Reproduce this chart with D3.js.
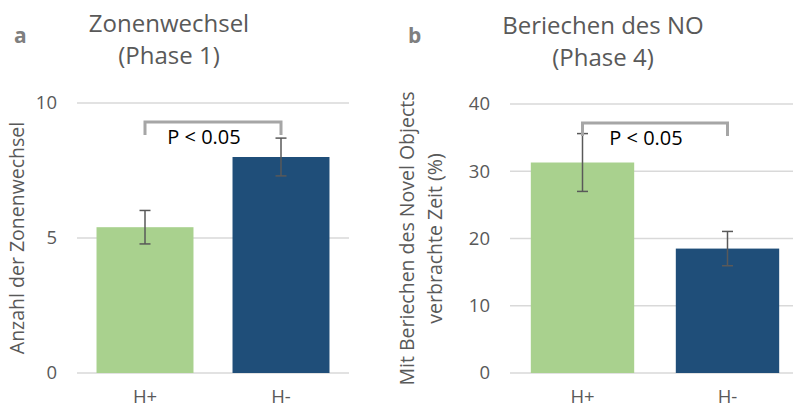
<!DOCTYPE html>
<html>
<head>
<meta charset="utf-8">
<script src="https://cdn.jsdelivr.net/npm/d3@7"></script>
<style>
  body { margin: 0; background: #fff; }
  svg { display: block; font-family: "Open Sans", sans-serif; }
  .grid line { stroke: #d9d9d9; stroke-width: 1.5; }
  .tick-label { fill: #595959; font-size: 18.5px; }
  .chartTitle { fill: #595959; font-size: 24px; }
  .panelLetter { fill: #7f7f7f; font-size: 21px; font-weight: bold; }
  .axisTitle { fill: #595959; font-size: 19.5px; }
</style>
</head>
<body>
<svg id="chart"></svg>
<script>
// Data
const groups = ['H+', 'H-'];
const barColors = ['#a9d18e', '#1f4e79'];

const zoneMeans = [5.4, 8.0];
const zoneErrors = [0.62, 0.7];
const zoneTicks = [0, 5, 10];

const sniffMeans = [31.3, 18.5];
const sniffErrors = [4.3, 2.55];
const sniffTicks = [0, 10, 20, 30, 40];

const pLabel = 'P < 0.05';

const panels = [
  {
    letter: 'a', title: ['Zonenwechsel', '(Phase 1)'],
    yTitle: ['Anzahl der Zonenwechsel'],
    means: zoneMeans, errors: zoneErrors, ticks: zoneTicks, yMax: 10,
    xRange: [77, 349], yRange: [373, 103],
    letterX: 14, titleX: 169, titleY: 32, tickX: 57, yTitleX: 24
  },
  {
    letter: 'b', title: ['Beriechen des NO', '(Phase 4)'],
    yTitle: ['Mit Beriechen des Novel Objects', 'verbrachte Zeit (%)'],
    means: sniffMeans, errors: sniffErrors, ticks: sniffTicks, yMax: 40,
    xRange: [510, 800], yRange: [373, 104],
    letterX: 408, titleX: 603, titleY: 34, tickX: 490, yTitleX: 414
  }
];

const svg = d3.select('#chart')
  .attr('width', 793)
  .attr('height', 408);

panels.forEach(p => {
  const x = d3.scaleBand()
    .domain(groups)
    .range(p.xRange)
    .paddingInner(0.287)
    .paddingOuter(0.1435);

  const y = d3.scaleLinear()
    .domain([0, p.yMax])
    .range(p.yRange);

  const g = svg.append('g');

  // gridlines
  g.append('g').attr('class', 'grid')
    .selectAll('line')
    .data(p.ticks)
    .join('line')
      .attr('x1', p.xRange[0])
      .attr('x2', p.xRange[1])
      .attr('y1', d => y(d))
      .attr('y2', d => y(d));

  // y tick labels
  g.selectAll('.ylab')
    .data(p.ticks)
    .join('text')
      .attr('class', 'tick-label ylab')
      .attr('x', p.tickX)
      .attr('y', d => y(d))
      .attr('dy', '0.35em')
      .attr('text-anchor', 'end')
      .text(d => d);

  // x labels
  g.selectAll('.xlab')
    .data(groups)
    .join('text')
      .attr('class', 'tick-label xlab')
      .attr('x', d => x(d) + x.bandwidth() / 2)
      .attr('y', 403)
      .attr('text-anchor', 'middle')
      .text(d => d);

  // bars
  g.selectAll('.bar')
    .data(groups)
    .join('rect')
      .attr('class', 'bar')
      .attr('x', d => x(d))
      .attr('width', x.bandwidth())
      .attr('y', (d, i) => y(p.means[i]))
      .attr('height', (d, i) => y(0) - y(p.means[i]))
      .attr('fill', (d, i) => barColors[i]);

  // error bars
  const err = g.selectAll('.err')
    .data(groups)
    .join('g')
      .attr('class', 'err')
      .attr('stroke', '#595959')
      .attr('stroke-width', 1.5);
  err.append('line')
    .attr('x1', d => x(d) + x.bandwidth() / 2)
    .attr('x2', d => x(d) + x.bandwidth() / 2)
    .attr('y1', (d, i) => y(p.means[i] + p.errors[i]))
    .attr('y2', (d, i) => y(p.means[i] - p.errors[i]));
  [1, -1].forEach(s => {
    err.append('line')
      .attr('x1', d => x(d) + x.bandwidth() / 2 - 5.5)
      .attr('x2', d => x(d) + x.bandwidth() / 2 + 5.5)
      .attr('y1', (d, i) => y(p.means[i] + s * p.errors[i]))
      .attr('y2', (d, i) => y(p.means[i] + s * p.errors[i]));
  });

  // significance bracket
  const bx1 = x(groups[0]) + x.bandwidth() / 2;
  const bx2 = x(groups[1]) + x.bandwidth() / 2;
  const top = p.yRange[1] + 19;
  g.append('path')
    .attr('d', `M${bx1},${top + 13}V${top}H${bx2}V${top + 13}`)
    .attr('fill', 'none')
    .attr('stroke', '#a6a6a6')
    .attr('stroke-width', 3);
  g.append('text')
    .attr('x', (bx1 + bx2) / 2 - 9)
    .attr('y', top + 22)
    .attr('text-anchor', 'middle')
    .style('font-size', '20px')
    .attr('fill', '#000')
    .text(pLabel);

  // titles
  g.append('text')
    .attr('class', 'panelLetter')
    .attr('x', p.letterX)
    .attr('y', 43)
    .text(p.letter);

  g.selectAll('.chartTitle')
    .data(p.title)
    .join('text')
      .attr('class', 'chartTitle')
      .attr('x', p.titleX)
      .attr('y', (d, i) => p.titleY + i * 32)
      .attr('text-anchor', 'middle')
      .text(d => d);

  // y axis title
  const midY = (p.yRange[0] + p.yRange[1]) / 2;
  g.selectAll('.axisTitle')
    .data(p.yTitle)
    .join('text')
      .attr('class', 'axisTitle')
      .attr('transform', (d, i) => `translate(${p.yTitleX + i * 28},${midY}) rotate(-90)`)
      .attr('text-anchor', 'middle')
      .text(d => d);
});
</script>
</body>
</html>
